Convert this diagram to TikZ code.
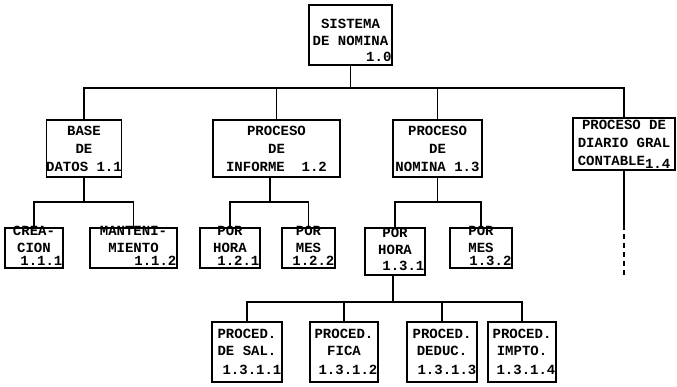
\documentclass[tikz,border=0pt]{standalone}
\usepackage{fontspec}
\setmainfont{Liberation Mono}
\begin{document}
\begin{tikzpicture}[x=1pt,y=-1pt,
  box/.style={draw, line width=1.2pt, inner sep=0pt, align=center,
    font=\fontsize{14}{18}\selectfont\bfseries},
  txt/.style={inner sep=0pt, align=center, font=\fontsize{14}{17}\selectfont\bfseries},
  num/.style={anchor=east, inner sep=1pt, font=\fontsize{14}{17}\selectfont\bfseries},
  conn/.style={line width=1.2pt},
  dconn/.style={line width=1.2pt, dashed, dash pattern=on 5pt off 4pt}]
\useasboundingbox (0,0) rectangle (677,386);
% root
\node[box, minimum width=83pt, minimum height=60pt] (root) at (350.5,35) {};
\node[txt] (troot) at ([yshift=3pt]root.center) {SISTEMA\\DE NOMINA};
\node[num] (nroot) at (root.east |- 0,57) {1.0};
% level 1
\node[box, minimum width=74pt, minimum height=57pt] (b11) at (84,148.5)
  {BASE\\DE\\DATOS 1.1};
\node[box, minimum width=127pt, minimum height=57pt] (b12) at (276.5,148.5)
  {PROCESO\\DE\\INFORME\ \ 1.2};
\node[box, minimum width=89pt, minimum height=57pt] (b13) at (437.5,148.5)
  {PROCESO\\DE\\NOMINA 1.3};
\node[box, minimum width=102pt, minimum height=52pt] (b14) at (624,144)
  {PROCESO DE\\DIARIO GRAL\\CONTABLE\raisebox{-3pt}{1.4}};
% level 2
\node[box, minimum width=58pt, minimum height=40pt] (b111) at (34,248) {};
\node[txt] (t111) at ([yshift=9pt]b111.center) {CREA-\\CION};
\node[num] (n111) at (b111.east |- 0,261) {1.1.1};
\node[box, minimum width=87pt, minimum height=40pt] (b112) at (133.5,248) {};
\node[txt] (t112) at ([yshift=9pt]b112.center) {MANTENI-\\MIENTO};
\node[num] (n112) at (b112.east |- 0,261) {1.1.2};
\node[box, minimum width=60pt, minimum height=40pt] (b121) at (230,248) {};
\node[txt] (t121) at ([yshift=9pt]b121.center) {POR\\HORA};
\node[num] (n121) at (b121.east |- 0,261) {1.2.1};
\node[box, minimum width=53pt, minimum height=40pt] (b122) at (308.5,248) {};
\node[txt] (t122) at ([yshift=9pt]b122.center) {POR\\MES};
\node[num] (n122) at (b122.east |- 0,261) {1.2.2};
\node[box, minimum width=60pt, minimum height=47pt] (b131) at (395,251.5) {};
\node[txt] (t131) at ([yshift=10pt]b131.center) {POR\\HORA};
\node[num] (n131) at (b131.east |- 0,266) {1.3.1};
\node[box, minimum width=62pt, minimum height=40pt] (b132) at (481,248) {};
\node[txt] (t132) at ([yshift=9pt]b132.center) {POR\\MES};
\node[num] (n132) at (b132.east |- 0,261) {1.3.2};
% level 3
\node[box, minimum width=70pt, minimum height=60pt] (b1311) at (247,352) {};
\node[txt] (t1311) at ([yshift=10pt]b1311.center) {PROCED.\\DE SAL.};
\node[num] (n1311) at (b1311.east |- 0,370) {1.3.1.1};
\node[box, minimum width=68pt, minimum height=60pt] (b1312) at (344,352) {};
\node[txt] (t1312) at ([yshift=10pt]b1312.center) {PROCED.\\FICA};
\node[num] (n1312) at (b1312.east |- 0,370) {1.3.1.2};
\node[box, minimum width=70pt, minimum height=60pt] (b1313) at (442,352) {};
\node[txt] (t1313) at ([yshift=10pt]b1313.center) {PROCED.\\DEDUC.};
\node[num] (n1313) at (b1313.east |- 0,370) {1.3.1.3};
\node[box, minimum width=68pt, minimum height=60pt] (b1314) at (522,352) {};
\node[txt] (t1314) at ([yshift=10pt]b1314.center) {PROCED.\\IMPTO.};
\node[num] (n1314) at (b1314.east |- 0,370) {1.3.1.4};
% bus coordinates
\coordinate (j0) at (350.5,88);
\coordinate (j11) at (84,202);
\coordinate (j12) at (270,202);
\coordinate (j13) at (437.5,202);
\coordinate (j131) at (393,302);
\coordinate (d14a) at (624,225);
\coordinate (d14b) at (624,277);
% connectors
\draw[conn] (root.south) -- (j0);
\draw[conn] (b11.north) |- (j0);
\draw[conn] (b12.north) |- (j0);
\draw[conn] (b13.north) |- (j0);
\draw[conn] (b14.north) |- (j0);
\draw[conn] (b11.south) -- (j11);
\draw[conn] (b111.north) |- (j11);
\draw[conn] (b112.north) |- (j11);
\draw[conn] (b12.south -| j12) -- (j12);
\draw[conn] (b121.north) |- (j12);
\draw[conn] (b122.north) |- (j12);
\draw[conn] (b13.south) -- (j13);
\draw[conn] (b131.north) |- (j13);
\draw[conn] (b132.north) |- (j13);
\draw[conn] (b131.south -| j131) -- (j131);
\draw[conn] (b1311.north) |- (j131);
\draw[conn] (b1312.north) |- (j131);
\draw[conn] (b1313.north) |- (j131);
\draw[conn] (b1314.north) |- (j131);
\draw[conn] (b14.south) -- (d14a);
\draw[dconn] (d14a) -- (d14b);
\end{tikzpicture}
\end{document}
